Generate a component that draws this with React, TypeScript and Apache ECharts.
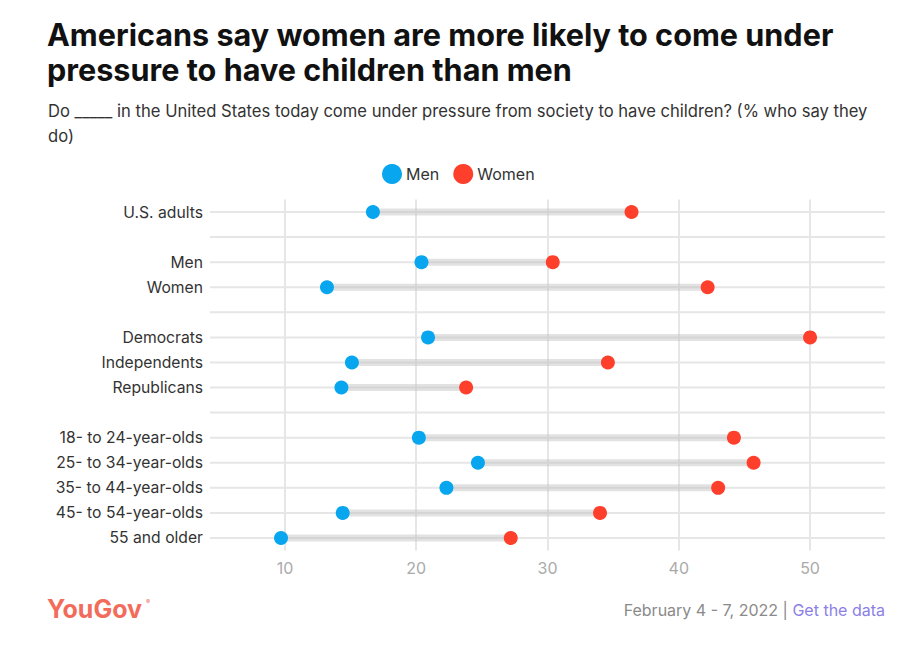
import React, { useEffect, useRef } from "react";
import * as echarts from "echarts";

const categories = [
  "U.S. adults", "",
  "Men", "Women", "",
  "Democrats", "Independents", "Republicans", "",
  "18- to 24-year-olds", "25- to 34-year-olds", "35- to 44-year-olds", "45- to 54-year-olds", "55 and older",
];
const menValues = [16.7, null, 20.4, 13.2, null, 20.9, 15.1, 14.3, null, 20.2, 24.7, 22.3, 14.4, 9.7];
const womenValues = [36.4, null, 30.4, 42.2, null, 50.0, 34.6, 23.8, null, 44.2, 45.7, 43.0, 34.0, 27.2];
const xTickLabels = [10, 20, 30, 40, 50];

const BLUE = "#08a6ee";
const RED = "#fe3f2c";
const FONT = "Inter, Roboto, 'Noto Sans', sans-serif";

export default function App() {
  const ref = useRef<HTMLDivElement>(null);

  useEffect(() => {
    if (!ref.current) return;
    const chart = echarts.init(ref.current, undefined, { renderer: "svg" });

    const rows = categories.map((_, i) => [i, menValues[i], womenValues[i]]);

    chart.setOption({
      animation: false,
      textStyle: { fontFamily: FONT },
      title: [
        {
          text: "Americans say women are more likely to come under\npressure to have children than men",
          left: 47,
          top: 17,
          padding: 0,
          textStyle: { fontFamily: FONT, fontSize: 30.6, fontWeight: 700, color: "#111", lineHeight: 35 },
        },
        {
          text: "Do _____ in the United States today come under pressure from society to have children? (% who say they\ndo)",
          left: 48,
          top: 98,
          padding: 0,
          textStyle: { fontFamily: FONT, fontSize: 16.6, fontWeight: 400, color: "#333", lineHeight: 25 },
        },
      ],
      legend: {
        data: ["Men", "Women"],
        left: 382,
        top: 164,
        padding: 0,
        icon: "circle",
        itemWidth: 20,
        itemHeight: 20,
        itemGap: 14,
        textStyle: { fontFamily: FONT, fontSize: 16, color: "#333", padding: [0, 0, 0, -1] },
        selectedMode: false,
      },
      grid: { left: 210, right: 23, top: 199.5, height: 351, containLabel: false },
      xAxis: {
        type: "value",
        min: 4.29,
        max: 55.71,
        splitNumber: 5,
        axisLine: { show: false },
        axisTick: { show: false },
        axisLabel: {
          color: "#aaaaaa",
          fontSize: 16,
          fontFamily: FONT,
          margin: 9,
          showMinLabel: false,
          showMaxLabel: false,
          formatter: (v: number) => (xTickLabels.includes(v) ? String(v) : ""),
        },
        splitLine: {
          show: true,
          showMinLine: false,
          showMaxLine: false,
          lineStyle: { color: "#e6e6e6", width: 2 },
        },
      },
      yAxis: {
        type: "category",
        inverse: true,
        data: categories,
        axisLine: { show: false },
        axisTick: { show: false },
        axisLabel: { color: "#333", fontSize: 15.7, fontFamily: FONT, margin: 7 },
        splitLine: { show: false },
      },
      series: [
        {
          type: "custom",
          name: "band",
          silent: true,
          z: 1,
          encode: { x: [1, 2], y: 0 },
          data: rows,
          renderItem: (params: any, api: any) => {
            const idx = api.value(0);
            const cs = params.coordSys;
            const yc = api.coord([30, idx])[1];
            const children: any[] = [
              {
                type: "line",
                shape: { x1: cs.x, y1: yc, x2: cs.x + cs.width, y2: yc },
                style: { stroke: "#e6e6e6", lineWidth: 2 },
              },
            ];
            const m = api.value(1);
            const w = api.value(2);
            if (m != null && w != null && !isNaN(m) && !isNaN(w)) {
              const p1 = api.coord([Math.min(m, w), idx]);
              const p2 = api.coord([Math.max(m, w), idx]);
              children.push({
                type: "rect",
                shape: { x: p1[0], y: yc - 3.5, width: p2[0] - p1[0], height: 7 },
                style: { fill: "rgba(190,190,190,0.45)" },
              });
            }
            return { type: "group", children };
          },
        },
        {
          type: "scatter",
          name: "Men",
          z: 3,
          symbolSize: 14,
          itemStyle: { color: BLUE, opacity: 1 },
          data: menValues.map((v, i) => (v == null ? [null, i] : [v, i])),
        },
        {
          type: "scatter",
          name: "Women",
          z: 3,
          symbolSize: 14,
          itemStyle: { color: RED, opacity: 1 },
          data: womenValues.map((v, i) => (v == null ? [null, i] : [v, i])),
        },
      ],
      graphic: [
        {
          type: "text",
          left: 47,
          top: 596,
          style: {
            text: "YouGov",
            fontFamily: FONT,
            fontSize: 25,
            fontWeight: 700,
            fill: "#f26b5b",
            letterSpacing: -1,
          },
        },
        {
          type: "text",
          left: 146,
          top: 598,
          style: { text: "®", fontSize: 6, fill: "#f26b5b", fontFamily: FONT },
        },
        {
          type: "text",
          right: 23,
          top: 602,
          style: {
            text: "{d|February 4 - 7, 2022 | }{l|Get the data}",
            rich: {
              d: { fontFamily: FONT, fontSize: 16, fill: "#8a8a8a", color: "#8a8a8a" },
              l: { fontFamily: FONT, fontSize: 16, fill: "#8b7fe6", color: "#8b7fe6" },
            },
          },
        },
      ],
    });

    return () => chart.dispose();
  }, []);

  return (
    <div
      ref={ref}
      style={{ position: "fixed", left: 0, top: 0, width: 908, height: 654, background: "#fff" }}
    />
  );
}
